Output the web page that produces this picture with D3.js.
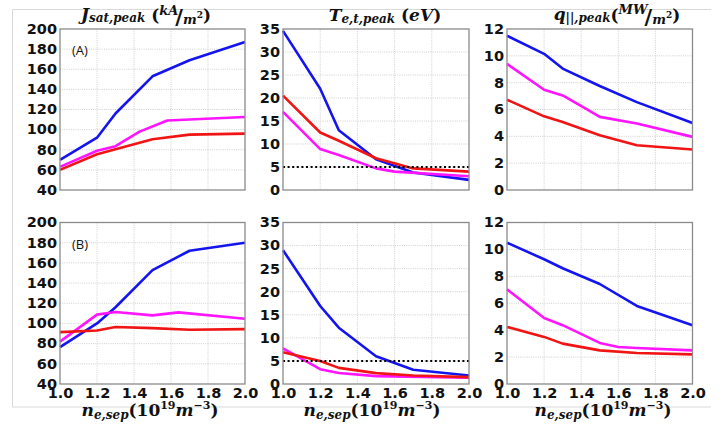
<!DOCTYPE html>
<html>
<head>
<meta charset="utf-8">
<script src="https://cdn.jsdelivr.net/npm/d3@7"></script>
<style>
  html, body { margin: 0; padding: 0; background: #fff; }
  svg { display: block; }
</style>
</head>
<body>
<svg id="fig" width="723" height="427"></svg>
<script>
// Separatrix density (10^19 m^-3) ticks and the three y-axis tick sets
const xTicks = [1.0, 1.2, 1.4, 1.6, 1.8, 2.0];
const jsatTicks = [40, 60, 80, 100, 120, 140, 160, 180, 200];
const teTicks = [0, 5, 10, 15, 20, 25, 30, 35];
const qTicks = [0, 2, 4, 6, 8, 10, 12];
const teThreshold = 5;

// Case (A): [n_e,sep, value] pairs
const jsatA_blue = [[1.0, 70], [1.2, 92], [1.3, 116], [1.5, 153], [1.7, 169], [2.0, 187]];
const jsatA_magenta = [[1.0, 63], [1.2, 79], [1.3, 83.5], [1.43, 98], [1.58, 109], [2.0, 112.5]];
const jsatA_red = [[1.0, 60], [1.2, 75.5], [1.3, 80.5], [1.5, 90.5], [1.7, 95], [2.0, 96]];

const teA_blue = [[1.0, 34.6], [1.2, 22.0], [1.3, 13.0], [1.5, 6.7], [1.7, 3.8], [2.0, 2.2]];
const teA_magenta = [[1.0, 17.0], [1.2, 8.9], [1.3, 7.6], [1.5, 4.7], [1.6, 4.0], [2.0, 3.0]];
const teA_red = [[1.0, 20.5], [1.2, 12.5], [1.3, 10.7], [1.5, 6.9], [1.7, 4.7], [2.0, 4.0]];

const qA_blue = [[1.0, 11.5], [1.2, 10.15], [1.3, 9.05], [1.5, 7.75], [1.7, 6.55], [2.0, 5.0]];
const qA_magenta = [[1.0, 9.4], [1.2, 7.47], [1.3, 7.05], [1.42, 6.1], [1.5, 5.45], [1.7, 4.95], [2.0, 3.96]];
const qA_red = [[1.0, 6.73], [1.2, 5.49], [1.3, 5.07], [1.5, 4.08], [1.7, 3.34], [2.0, 3.02]];

// Case (B)
const jsatB_blue = [[1.0, 76.5], [1.2, 100], [1.3, 116], [1.5, 152.8], [1.7, 172], [2.0, 180]];
const jsatB_magenta = [[1.0, 82], [1.2, 108.7], [1.3, 111.3], [1.5, 108], [1.64, 111], [2.0, 104.7]];
const jsatB_red = [[1.0, 91.4], [1.2, 93], [1.3, 96.4], [1.5, 95.4], [1.7, 93.8], [2.0, 94.4]];

const teB_blue = [[1.0, 29.0], [1.2, 16.9], [1.3, 12.2], [1.5, 6.0], [1.7, 3.1], [2.0, 1.85]];
const teB_magenta = [[1.0, 7.7], [1.2, 3.2], [1.3, 2.4], [1.5, 1.7], [2.0, 1.35]];
const teB_red = [[1.0, 6.9], [1.2, 5.0], [1.3, 3.5], [1.5, 2.35], [1.7, 1.85], [2.0, 1.5]];

const qB_blue = [[1.0, 10.5], [1.2, 9.27], [1.3, 8.6], [1.5, 7.43], [1.7, 5.8], [2.0, 4.37]];
const qB_magenta = [[1.0, 7.03], [1.2, 4.9], [1.3, 4.37], [1.5, 3.05], [1.6, 2.75], [1.7, 2.67], [2.0, 2.5]];
const qB_red = [[1.0, 4.24], [1.2, 3.5], [1.3, 3.0], [1.5, 2.5], [1.7, 2.3], [2.0, 2.2]];

const colors = { blue: "#1414f0", magenta: "#ff14ff", red: "#f01414" };

const svg = d3.select("#fig");
svg.append("rect").attr("width", 723).attr("height", 427).attr("fill", "#fff");

// light outer frame of the figure
svg.append("path")
  .attr("d", "M711,9.5H12.5V407H711")
  .attr("fill", "none").attr("stroke", "#d9d9d9").attr("stroke-width", 1);

const cols = [{ l: 60, r: 245 }, { l: 283, r: 469 }, { l: 507, r: 692.5 }];
const rows = [{ t: 29, b: 190 }, { t: 222.5, b: 384 }];

const panels = [
  { row: 0, col: 0, dom: [40, 200], ticks: jsatTicks, series: [jsatA_blue, jsatA_magenta, jsatA_red], tag: "(A)" },
  { row: 0, col: 1, dom: [0, 35], ticks: teTicks, series: [teA_blue, teA_magenta, teA_red], threshold: true },
  { row: 0, col: 2, dom: [0, 12], ticks: qTicks, series: [qA_blue, qA_magenta, qA_red] },
  { row: 1, col: 0, dom: [40, 200], ticks: jsatTicks, series: [jsatB_blue, jsatB_magenta, jsatB_red], tag: "(B)" },
  { row: 1, col: 1, dom: [0, 35], ticks: teTicks, series: [teB_blue, teB_magenta, teB_red], threshold: true },
  { row: 1, col: 2, dom: [0, 12], ticks: qTicks, series: [qB_blue, qB_magenta, qB_red] }
];
const seriesColors = [colors.blue, colors.magenta, colors.red];

const tickFont = "'DejaVu Sans', sans-serif";

panels.forEach(p => {
  const c = cols[p.col], r = rows[p.row];
  const x = d3.scaleLinear().domain([1, 2]).range([c.l, c.r]);
  const y = d3.scaleLinear().domain(p.dom).range([r.b, r.t]);
  const g = svg.append("g");

  // dotted grid
  const grid = g.append("g").attr("stroke", "#c4c4c4").attr("stroke-width", 0.8)
    .attr("stroke-dasharray", "1,1.2");
  xTicks.slice(1, -1).forEach(v => {
    grid.append("line").attr("x1", x(v)).attr("x2", x(v)).attr("y1", r.t).attr("y2", r.b);
  });
  p.ticks.slice(1, -1).forEach(v => {
    grid.append("line").attr("x1", c.l).attr("x2", c.r).attr("y1", y(v)).attr("y2", y(v));
  });

  // data lines
  const line = d3.line().x(d => x(d[0])).y(d => y(d[1]));
  p.series.forEach((s, i) => {
    g.append("path").datum(s).attr("d", line)
      .attr("fill", "none").attr("stroke", seriesColors[i])
      .attr("stroke-width", 2.6).attr("stroke-linejoin", "round").attr("stroke-linecap", "butt");
  });

  if (p.threshold) {
    g.append("line")
      .attr("x1", x(1)).attr("x2", x(2)).attr("y1", y(teThreshold)).attr("y2", y(teThreshold))
      .attr("stroke", "#000").attr("stroke-width", 2).attr("stroke-dasharray", "2,2.6");
  }

  // axes frame
  g.append("rect").attr("x", c.l).attr("y", r.t).attr("width", c.r - c.l).attr("height", r.b - r.t)
    .attr("fill", "none").attr("stroke", "#8a8a8a").attr("stroke-width", 1.3);

  // y axis labels
  const yAxis = d3.axisLeft(y).tickValues(p.ticks).tickSize(0).tickPadding(3).tickFormat(d3.format("d"));
  const ya = g.append("g").attr("transform", `translate(${c.l},0)`).call(yAxis);
  ya.select(".domain").remove();
  ya.selectAll("text").attr("font-family", tickFont).attr("font-weight", "bold")
    .attr("font-size", 14.5).attr("fill", "#111").attr("dy", "0.3em");

  // x axis labels only on the bottom row
  if (p.row === 1) {
    const xAxis = d3.axisBottom(x).tickValues(xTicks).tickSize(0).tickPadding(4).tickFormat(d3.format(".1f"));
    const xa = g.append("g").attr("transform", `translate(0,${r.b})`).call(xAxis);
    xa.select(".domain").remove();
    xa.selectAll("text").attr("font-family", tickFont).attr("font-weight", "bold")
      .attr("font-size", 14.5).attr("fill", "#111").attr("dy", "0.72em");
  }

  if (p.tag) {
    g.append("text").attr("x", c.l + 12).attr("y", r.t + 26)
      .attr("font-family", "'Open Sans', 'DejaVu Sans', sans-serif").attr("font-size", 13)
      .attr("fill", "#111").text(p.tag);
  }
});

// math-style labels built from tspans; each segment gives its baseline,
// converted to relative shifts so the whole label stays one centred chunk
const mathFont = "'DejaVu Serif', serif";
function mathLabel(cx, baseY, segs) {
  const t = svg.append("text").attr("font-family", mathFont).attr("font-weight", "bold")
    .attr("fill", "#111").attr("text-anchor", "middle").attr("x", cx).attr("y", baseY);
  let cur = baseY;
  segs.forEach(s => {
    const ts = t.append("tspan").attr("dy", s.y - cur).attr("font-size", s.size)
      .attr("font-style", s.upright ? "normal" : "italic").text(s.t);
    cur = s.y;
    if (s.dx) ts.attr("dx", s.dx);
  });
  return t;
}

// column titles
mathLabel(146, 20, [
  { t: "J", size: 17, y: 20 },
  { t: "sat,peak", size: 12, y: 22 },
  { t: " (", size: 17, y: 21, upright: true },
  { t: "kA", size: 13, y: 15 },
  { t: "/", size: 21, y: 24, upright: true, dx: -3 },
  { t: "m", size: 13, y: 24 },
  { t: "2", size: 9, y: 18, upright: true },
  { t: ")", size: 17, y: 21, upright: true }
]);
mathLabel(385, 21, [
  { t: "T", size: 17, y: 21 },
  { t: "e,t,peak", size: 12, y: 23 },
  { t: " (", size: 17, y: 21, upright: true },
  { t: "eV", size: 17, y: 21 },
  { t: ")", size: 17, y: 21, upright: true }
]);
mathLabel(617, 20, [
  { t: "q", size: 17, y: 20 },
  { t: "||,peak", size: 12, y: 22 },
  { t: "(", size: 17, y: 21, upright: true },
  { t: "MW", size: 13, y: 14 },
  { t: "/", size: 21, y: 24, upright: true, dx: -3 },
  { t: "m", size: 13, y: 24 },
  { t: "2", size: 9, y: 18, upright: true },
  { t: ")", size: 17, y: 21, upright: true }
]);

// x-axis titles under the bottom row
[150, 372, 603].forEach(cx => {
  mathLabel(cx, 416, [
    { t: "n", size: 17, y: 416 },
    { t: "e,sep", size: 12, y: 419 },
    { t: "(10", size: 17, y: 416, upright: true },
    { t: "19", size: 11, y: 409, upright: true },
    { t: "m", size: 17, y: 416 },
    { t: "\u22123", size: 11, y: 409, upright: true },
    { t: ")", size: 17, y: 416, upright: true }
  ]);
});
</script>
</body>
</html>
